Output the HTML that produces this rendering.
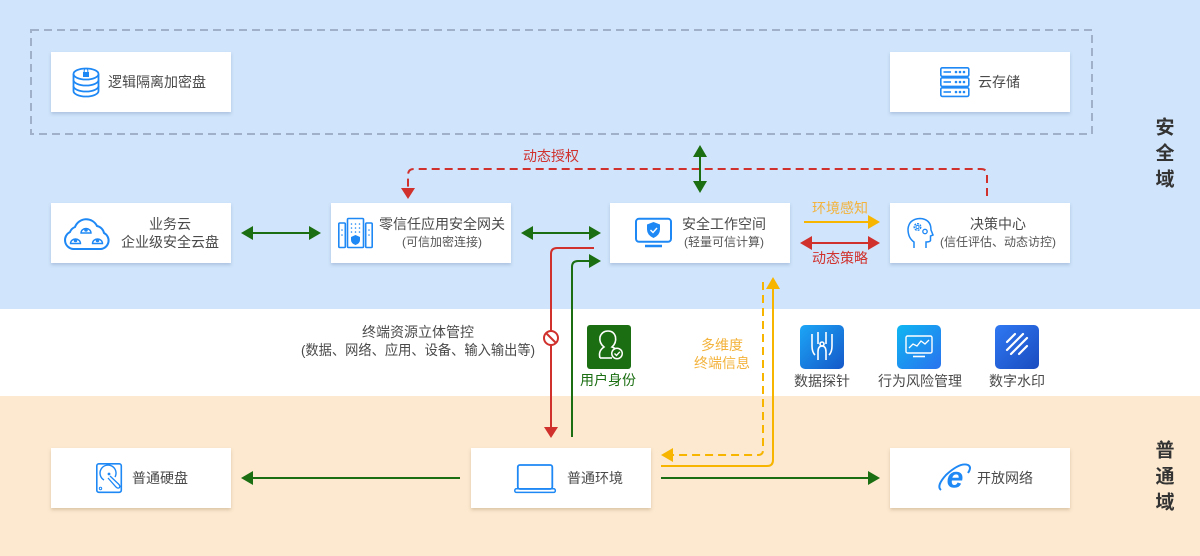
<!DOCTYPE html>
<html><head><meta charset="utf-8"><style>
html,body{margin:0;padding:0;background:#fff;}
svg{display:block;}
text{font-family:"Liberation Sans","Noto Sans CJK SC",sans-serif;}
</style></head><body>
<svg width="1200" height="556" viewBox="0 0 1200 556" xmlns="http://www.w3.org/2000/svg">
<defs>
<filter id="sh" x="-10%" y="-20%" width="120%" height="160%">
<feDropShadow dx="0" dy="2" stdDeviation="1.6" flood-color="#4a6a98" flood-opacity="0.28"/>
</filter>
<filter id="sh2" x="-10%" y="-20%" width="120%" height="160%">
<feDropShadow dx="0" dy="2" stdDeviation="1.6" flood-color="#8a6a40" flood-opacity="0.28"/>
</filter>
<linearGradient id="g1" x1="0" y1="0" x2="1" y2="1"><stop offset="0" stop-color="#1ca6f7"/><stop offset="1" stop-color="#1558c8"/></linearGradient>
<linearGradient id="g2" x1="0" y1="0" x2="1" y2="1"><stop offset="0" stop-color="#0fb6f2"/><stop offset="1" stop-color="#2a72ee"/></linearGradient>
<linearGradient id="g3" x1="0" y1="0" x2="1" y2="1"><stop offset="0" stop-color="#2f78f2"/><stop offset="1" stop-color="#1a4cc0"/></linearGradient>
</defs>

<!-- bands -->
<rect x="0" y="0" width="1200" height="309" fill="#d0e4fb"/>
<rect x="0" y="309" width="1200" height="87" fill="#ffffff"/>
<rect x="0" y="396" width="1200" height="160" fill="#fce9cf"/>

<!-- dashed container -->
<rect x="31" y="30" width="1061" height="104" fill="none" stroke="#9fb0c8" stroke-width="2" stroke-dasharray="8 5"/>

<!-- boxes -->
<g fill="#fff" filter="url(#sh)">
<rect x="51" y="52" width="180" height="60"/>
<rect x="890" y="52" width="180" height="60"/>
<rect x="51" y="203" width="180" height="60"/>
<rect x="331" y="203" width="180" height="60"/>
<rect x="610" y="203" width="180" height="60"/>
<rect x="890" y="203" width="180" height="60"/>
</g>
<g fill="#fff" filter="url(#sh2)">
<rect x="51" y="448" width="180" height="60"/>
<rect x="471" y="448" width="180" height="60"/>
<rect x="890" y="448" width="180" height="60"/>
</g>

<!-- domain labels -->
<g font-size="19" font-weight="bold" fill="#333" text-anchor="middle" dominant-baseline="central">
<text x="1165" y="128">安</text><text x="1165" y="154">全</text><text x="1165" y="180">域</text>
<text x="1165" y="451">普</text><text x="1165" y="477">通</text><text x="1165" y="503">域</text>
</g>

<!-- box texts -->
<g font-size="14" fill="#4a4a4a" dominant-baseline="central">
<text x="108" y="82">逻辑隔离加密盘</text>
<text x="978" y="82">云存储</text>
<text x="170" y="224" text-anchor="middle">业务云</text>
<text x="170" y="242" text-anchor="middle">企业级安全云盘</text>
<text x="442" y="224" text-anchor="middle">零信任应用安全网关</text>
<text x="724" y="224" text-anchor="middle">安全工作空间</text>
<text x="998" y="224" text-anchor="middle">决策中心</text>
<text x="132" y="478">普通硬盘</text>
<text x="567" y="478">普通环境</text>
<text x="977" y="478">开放网络</text>
</g>
<g font-size="12" fill="#555" dominant-baseline="central" text-anchor="middle">
<text x="442" y="242">(可信加密连接)</text>
<text x="724" y="242">(轻量可信计算)</text>
<text x="998" y="242">(信任评估、动态访控)</text>
</g>

<!-- middle band text -->
<g font-size="14" fill="#4a4a4a" dominant-baseline="central" text-anchor="middle">
<text x="418" y="332">终端资源立体管控</text>
<text x="418" y="350" textLength="234" lengthAdjust="spacingAndGlyphs">(数据、网络、应用、设备、输入输出等)</text>
<text x="822" y="381">数据探针</text>
<text x="920" y="381">行为风险管理</text>
<text x="1017" y="381">数字水印</text>
</g>
<text x="608" y="380" font-size="14" fill="#1b6e12" text-anchor="middle" dominant-baseline="central">用户身份</text>
<g font-size="14" fill="#f3b33c" text-anchor="middle" dominant-baseline="central">
<text x="722" y="345">多维度</text>
<text x="722" y="363">终端信息</text>
<text x="840" y="208">环境感知</text>
</g>
<g font-size="14" fill="#d0312d" text-anchor="middle" dominant-baseline="central">
<text x="551" y="156">动态授权</text>
<text x="840" y="258">动态策略</text>
</g>

<!-- connectors -->
<path d="M987,196 V175 Q987,169 981,169 H414 Q408,169 408,175 V188" fill="none" stroke="#d0312d" stroke-width="2" stroke-dasharray="8 5"/>
<polygon points="401,188 415,188 408,199" fill="#d0312d"/>

<g stroke="#1b6e12" stroke-width="2" fill="#1b6e12">
<line x1="250" y1="233" x2="312" y2="233"/>
<polygon points="241,233 253,226 253,240" stroke="none"/>
<polygon points="321,233 309,226 309,240" stroke="none"/>
<line x1="530" y1="233" x2="592" y2="233"/>
<polygon points="521,233 533,226 533,240" stroke="none"/>
<polygon points="601,233 589,226 589,240" stroke="none"/>
<line x1="700" y1="154" x2="700" y2="184"/>
<polygon points="700,145 693,157 707,157" stroke="none"/>
<polygon points="700,193 693,181 707,181" stroke="none"/>
</g>

<line x1="804" y1="222" x2="870" y2="222" stroke="#f7b500" stroke-width="2"/>
<polygon points="880,222 868,215 868,229" fill="#f7b500"/>
<line x1="808" y1="243" x2="872" y2="243" stroke="#d0312d" stroke-width="2"/>
<polygon points="800,243 812,236 812,250" fill="#d0312d"/>
<polygon points="880,243 868,236 868,250" fill="#d0312d"/>

<path d="M594,248 H557 Q551,248 551,254 V428" fill="none" stroke="#d0312d" stroke-width="2"/>
<polygon points="544,427 558,427 551,438" fill="#d0312d"/>
<circle cx="551" cy="338" r="7" fill="#fff" stroke="#d0312d" stroke-width="2"/>
<line x1="546.5" y1="333.5" x2="555.5" y2="342.5" stroke="#d0312d" stroke-width="2"/>

<path d="M572,437 V267 Q572,261 578,261 H591" fill="none" stroke="#1b6e12" stroke-width="2"/>
<polygon points="601,261 589,254 589,268" fill="#1b6e12"/>

<path d="M763,282 V450 Q763,455 758,455 H672" fill="none" stroke="#f7b500" stroke-width="2" stroke-dasharray="8 5"/>
<polygon points="661,455 673,448 673,462" fill="#f7b500"/>
<path d="M661,466 H767 Q773,466 773,460 V287" fill="none" stroke="#f7b500" stroke-width="2"/>
<polygon points="773,277 766,289 780,289" fill="#f7b500"/>

<line x1="460" y1="478" x2="250" y2="478" stroke="#1b6e12" stroke-width="2"/>
<polygon points="241,478 253,471 253,485" fill="#1b6e12"/>
<line x1="661" y1="478" x2="870" y2="478" stroke="#1b6e12" stroke-width="2"/>
<polygon points="880,478 868,471 868,485" fill="#1b6e12"/>

<!-- ICONS -->
<g fill="none" stroke="#1e88f5" stroke-width="1.8">
<ellipse cx="86" cy="74" rx="12.5" ry="5.5"/>
<path d="M73.5,74 V91 A12.5,5.5 0 0 0 98.5,91 V74"/>
<path d="M73.5,80 A12.5,5.5 0 0 0 98.5,80"/>
<path d="M73.5,86 A12.5,5.5 0 0 0 98.5,86"/>
</g>
<rect x="83" y="72" width="6" height="5" fill="#1e88f5"/>
<path d="M84.2,72 V70.5 A1.8,1.8 0 0 1 87.8,70.5 V72" fill="none" stroke="#1e88f5" stroke-width="1"/>

<g fill="none" stroke="#1e88f5" stroke-width="1.6">
<rect x="940.8" y="67.8" width="28" height="8.6" rx="1.5"/>
<rect x="940.8" y="77.8" width="28" height="8.6" rx="1.5"/>
<rect x="940.8" y="87.8" width="28" height="8.6" rx="1.5"/>
<line x1="943.5" y1="72" x2="951" y2="72"/><line x1="943.5" y1="82" x2="951" y2="82"/><line x1="943.5" y1="92" x2="951" y2="92"/>
</g>
<g fill="#1e88f5">
<circle cx="956" cy="72" r="1.3"/><circle cx="960" cy="72" r="1.3"/><circle cx="964" cy="72" r="1.3"/>
<circle cx="956" cy="82" r="1.3"/><circle cx="960" cy="82" r="1.3"/><circle cx="964" cy="82" r="1.3"/>
<circle cx="956" cy="92" r="1.3"/><circle cx="960" cy="92" r="1.3"/><circle cx="964" cy="92" r="1.3"/>
</g>

<path d="M73,249 H101 A8.5,8.5 0 0 0 104,233 A9,9 0 0 0 97,226 A12,12 0 0 0 75,227 A9,9 0 0 0 70,232 A9,9 0 0 0 73,249 Z" fill="none" stroke="#1e88f5" stroke-width="2"/>
<g fill="none" stroke="#1e88f5" stroke-width="1.4">
<path d="M81,233 A5,4.5 0 0 1 91,233 Z"/>
<path d="M70.5,243.5 A5,4.5 0 0 1 80.5,243.5 Z"/>
<path d="M92.5,243.5 A5,4.5 0 0 1 102.5,243.5 Z"/>
</g>
<g fill="#1e88f5"><circle cx="86" cy="230" r="1.8"/><circle cx="75.5" cy="240.5" r="1.8"/><circle cx="97.5" cy="240.5" r="1.8"/></g>

<g fill="none" stroke="#1e88f5" stroke-width="1.6">
<rect x="347.5" y="218.5" width="16" height="29" rx="1"/>
<rect x="338.8" y="223" width="6.5" height="24.5" rx="1"/>
<rect x="365.7" y="223" width="6.5" height="24.5" rx="1"/>
</g>
<g fill="#1e88f5">
<circle cx="351.5" cy="224" r="0.8"/><circle cx="355.5" cy="224" r="0.8"/><circle cx="359.5" cy="224" r="0.8"/>
<circle cx="351.5" cy="228" r="0.8"/><circle cx="355.5" cy="228" r="0.8"/><circle cx="359.5" cy="228" r="0.8"/>
<circle cx="351.5" cy="232" r="0.8"/><circle cx="355.5" cy="232" r="0.8"/><circle cx="359.5" cy="232" r="0.8"/>
<circle cx="342" cy="230" r="0.8"/><circle cx="342" cy="235" r="0.8"/>
<circle cx="369" cy="230" r="0.8"/><circle cx="369" cy="235" r="0.8"/>
<path d="M355.5,235 L360,237 V240 Q360,243.5 355.5,245 Q351,243.5 351,240 V237 Z"/>
</g>

<rect x="636" y="218.8" width="35" height="23" rx="3" fill="none" stroke="#1e88f5" stroke-width="2"/>
<line x1="645" y1="246" x2="662" y2="246" stroke="#1e88f5" stroke-width="2.6"/>
<path d="M653.5,222 L660,224.5 V229.5 Q660,235 653.5,238 Q647,235 647,229.5 V224.5 Z" fill="#1e88f5"/>
<path d="M650.5,230 L653,232.5 L657,228" fill="none" stroke="#fff" stroke-width="1.4"/>

<path d="M914,248 V242 Q908,238 908,229 Q909,219 920,218.5 Q931,219 931,230 L933,235 L930.5,236 V240.5 Q930,242 926,242 V248" fill="none" stroke="#1e88f5" stroke-width="1.5"/>
<circle cx="917.5" cy="227" r="3.3" fill="none" stroke="#1e88f5" stroke-width="1.4" stroke-dasharray="2 1"/>
<circle cx="917.5" cy="227" r="1.6" fill="none" stroke="#1e88f5" stroke-width="1"/>
<circle cx="925" cy="231.5" r="2.2" fill="none" stroke="#1e88f5" stroke-width="1.3"/>

<rect x="96.8" y="463.8" width="24.5" height="28.5" rx="2" fill="none" stroke="#1e88f5" stroke-width="1.6"/>
<path d="M104,480 A8,8 0 1 1 115,477" fill="none" stroke="#1e88f5" stroke-width="1.4"/>
<circle cx="109" cy="474" r="1.4" fill="#1e88f5"/>
<path d="M108,478 L116,487 Q118,489 119.5,487.5 Q120.5,486 118.5,484 L110,476" fill="none" stroke="#1e88f5" stroke-width="1.3"/>
<circle cx="100.5" cy="488.5" r="1.2" fill="none" stroke="#1e88f5" stroke-width="1"/>

<rect x="517.8" y="465" width="34.5" height="24" rx="2" fill="none" stroke="#1e88f5" stroke-width="1.8"/>
<rect x="514.8" y="488.8" width="40.5" height="3.6" rx="1.5" fill="none" stroke="#1e88f5" stroke-width="1.5"/>

<text x="955" y="478" font-size="30" font-weight="bold" fill="#1e88f5" text-anchor="middle" dominant-baseline="central" font-style="italic">e</text>
<path d="M941,490 Q936,486 946,475 Q960,462 968,465 Q972,467 968,473" fill="none" stroke="#1e88f5" stroke-width="2"/>

<rect x="587" y="325" width="44" height="44" rx="3" fill="#1b6e12"/>
<path d="M600,358 Q598,351 604,347 Q599,343 600,337 Q602,331 608,331 Q614,331 615.5,337 Q616.5,343 612,347 Q615,348 617,350" fill="none" stroke="#fff" stroke-width="1.6"/>
<path d="M600,358 H612" fill="none" stroke="#fff" stroke-width="1.6"/>
<circle cx="617" cy="353.5" r="6" fill="#fff"/>
<circle cx="617" cy="353.5" r="4.5" fill="#1b6e12"/>
<path d="M614.5,353.5 L616.5,355.5 L619.8,351.8" fill="none" stroke="#fff" stroke-width="1.4"/>

<rect x="800" y="325" width="44" height="44" rx="5" fill="url(#g1)"/>
<g fill="none" stroke="#fff" stroke-width="1.6">
<path d="M812,334 V346 Q812,352 815,355"/>
<path d="M832,334 V346 Q832,352 829,355"/>
<line x1="818" y1="332" x2="818" y2="344"/>
<line x1="826" y1="332" x2="826" y2="344"/>
<path d="M818,360 V352 Q818,346 822,346 Q826,346 826,352 V360"/>
<circle cx="822" cy="344" r="2"/>
</g>

<rect x="897" y="325" width="44" height="44" rx="5" fill="url(#g2)"/>
<rect x="906" y="336" width="26" height="17" rx="1.5" fill="none" stroke="#fff" stroke-width="1.4"/>
<line x1="913" y1="356.5" x2="925" y2="356.5" stroke="#fff" stroke-width="1.6"/>
<path d="M909,348 L913,344 L917,346 L921,341 L925,344 L929,340" fill="none" stroke="#fff" stroke-width="1.3"/>

<rect x="995" y="325" width="44" height="44" rx="5" fill="url(#g3)"/>
<g stroke="#fff" stroke-width="2.2" stroke-linecap="round">
<line x1="1007" y1="342" x2="1015" y2="334"/>
<line x1="1007" y1="350" x2="1023" y2="334"/>
<line x1="1011" y1="354" x2="1027" y2="338"/>
<line x1="1019" y1="354" x2="1027" y2="346"/>
</g>
</svg>
</body></html>
